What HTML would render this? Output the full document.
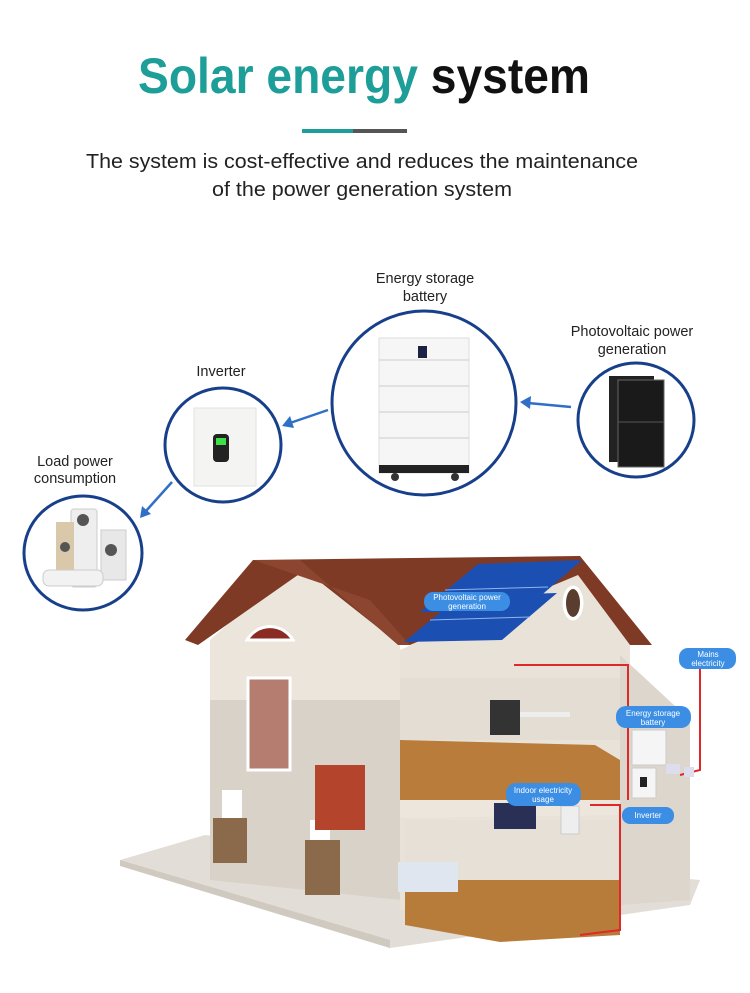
<!DOCTYPE html>
<html><head><meta charset="utf-8"><style>
html,body{margin:0;padding:0;background:#fff;}
svg{display:block;font-family:"Liberation Sans",sans-serif;}
</style></head><body>
<svg width="750" height="993" viewBox="0 0 750 993" xmlns="http://www.w3.org/2000/svg">
<rect width="750" height="993" fill="#fff"/>
<text x="138" y="93" font-size="50" font-weight="bold" textLength="452" lengthAdjust="spacingAndGlyphs"><tspan fill="#1d9e98">Solar energy</tspan><tspan fill="#111"> system</tspan></text>
<rect x="302" y="129" width="51" height="4" fill="#1d9e98"/><rect x="353" y="129" width="54" height="4" fill="#555"/>
<text x="362" y="168" font-size="20" fill="#222" text-anchor="middle" textLength="552" lengthAdjust="spacingAndGlyphs">The system is cost-effective and reduces the maintenance</text>
<text x="362" y="196" font-size="20" fill="#222" text-anchor="middle" textLength="300" lengthAdjust="spacingAndGlyphs">of the power generation system</text>

<g font-size="14.5" fill="#222" text-anchor="middle">
<text x="425" y="283">Energy storage</text><text x="425" y="301">battery</text>
<text x="632" y="336">Photovoltaic power</text><text x="632" y="354">generation</text>
<text x="221" y="376">Inverter</text>
<text x="75" y="466">Load power</text><text x="75" y="483">consumption</text>
</g>

<!-- circles -->
<g fill="#fff" stroke="#173f8a" stroke-width="3">
<ellipse cx="424" cy="403" rx="92" ry="92"/>
<ellipse cx="223" cy="445" rx="58" ry="57"/>
<ellipse cx="83" cy="553" rx="59" ry="57"/>
<ellipse cx="636" cy="420" rx="58" ry="57"/>
</g>
<!-- battery -->
<rect x="379" y="338" width="90" height="135" fill="#f6f6f6" stroke="#ddd"/>
<g stroke="#ccc"><line x1="379" y1="360" x2="469" y2="360"/><line x1="379" y1="386" x2="469" y2="386"/><line x1="379" y1="412" x2="469" y2="412"/><line x1="379" y1="438" x2="469" y2="438"/></g>
<rect x="418" y="346" width="9" height="12" fill="#1b2244"/>
<rect x="379" y="465" width="90" height="8" fill="#222"/>
<circle cx="395" cy="477" r="4" fill="#333"/><circle cx="455" cy="477" r="4" fill="#333"/>
<!-- inverter -->
<rect x="194" y="408" width="62" height="78" fill="#f4f4f2" stroke="#e2e2e2"/>
<rect x="213" y="434" width="16" height="28" rx="4" fill="#222"/><rect x="216" y="438" width="10" height="7" fill="#3ee04a"/>
<!-- pv panels -->
<rect x="609" y="376" width="45" height="86" fill="#222"/>
<rect x="618" y="380" width="46" height="87" fill="#1a1a1a" stroke="#666"/>
<line x1="618" y1="422" x2="664" y2="422" stroke="#555"/>
<!-- load -->
<rect x="71" y="509" width="26" height="78" rx="3" fill="#eee" stroke="#ccc"/>
<rect x="56" y="522" width="18" height="55" fill="#d9c9aa"/>
<rect x="101" y="530" width="25" height="50" fill="#e8e8e8" stroke="#ccc"/>
<rect x="43" y="570" width="60" height="16" rx="6" fill="#f2f2f2" stroke="#ccc"/>
<circle cx="83" cy="520" r="6" fill="#555"/><circle cx="111" cy="550" r="6" fill="#555"/><circle cx="65" cy="547" r="5" fill="#555"/>

<!-- arrows -->
<g stroke="#2f6fc7" stroke-width="2.5" fill="#2f6fc7">
<line x1="571" y1="407" x2="528" y2="403"/><polygon points="520,402 531,396 530,409" stroke="none"/>
<line x1="328" y1="410" x2="290" y2="423"/><polygon points="282,426 290,416 294,428" stroke="none"/>
<line x1="172" y1="482" x2="146" y2="511"/><polygon points="140,518 142,506 151,514" stroke="none"/>
</g>

<!-- house -->
<polygon points="120,860 205,835 700,880 690,905 390,948" fill="#e2ddd6"/>
<polygon points="120,860 390,940 390,948 120,866" fill="#cfc9c0"/>
<polygon points="210,640 300,560 400,640 400,900 210,880" fill="#ece5dc"/>
<polygon points="210,700 400,700 400,900 210,880" fill="#d9d2c8"/>
<polygon points="400,650 580,570 630,640 630,900 400,910" fill="#e9e2d8"/>
<polygon points="620,655 690,720 690,900 620,905" fill="#ddd6cc"/>
<polygon points="185,640 253,560 580,556 652,645 630,645 578,575 410,645 400,645 305,570 198,645" fill="#7e3a24"/>
<polygon points="253,560 300,560 398,645 410,645 370,600" fill="#8c4630"/>
<polygon points="420,612 478,564 582,560 522,612" fill="#1c4fb2"/>
<polygon points="404,642 460,596 557,593 502,640" fill="#1c4fb2"/>
<g stroke="#8fb6ee" stroke-width="1">
<line x1="445" y1="590" x2="548" y2="587"/><line x1="430" y1="620" x2="530" y2="617"/>
</g>
<path d="M247,640 a27,28 0 0 1 46,0 Z" fill="#8a2c24" stroke="#fff" stroke-width="3"/>
<rect x="248" y="678" width="42" height="92" fill="#b57d70" stroke="#fff" stroke-width="3"/>
<ellipse cx="573" cy="603" rx="11" ry="18" fill="#fff" stroke="#e8e1d6"/>
<ellipse cx="573" cy="603" rx="7" ry="14" fill="#5a3d2f"/>
<rect x="400" y="678" width="220" height="62" fill="#e3ddd3"/>
<polygon points="400,740 595,745 620,760 620,808 400,810" fill="#b97c3a"/>
<polygon points="400,800 620,800 620,815 400,818" fill="#ece6dc"/>
<rect x="490" y="700" width="30" height="35" fill="#333"/>
<rect x="520" y="712" width="50" height="5" fill="#eee"/>
<rect x="405" y="820" width="215" height="75" fill="#e6e0d6"/>
<polygon points="405,880 620,880 620,935 500,942 405,925" fill="#b87c3a"/>
<rect x="494" y="803" width="42" height="26" fill="#2a2f55"/>
<rect x="398" y="862" width="60" height="30" fill="#dfe6f0"/>
<rect x="561" y="806" width="18" height="28" fill="#eee" stroke="#ccc"/>
<rect x="222" y="790" width="20" height="55" fill="#fff"/>
<rect x="213" y="818" width="34" height="45" fill="#8a6a4a"/>
<rect x="310" y="820" width="20" height="40" fill="#fff"/>
<rect x="305" y="840" width="35" height="55" fill="#8a6a4a"/>
<rect x="315" y="765" width="50" height="65" fill="#b5442c"/>
<g fill="none" stroke="#e02828" stroke-width="2">
<polyline points="514,665 628,665 628,800"/>
<polyline points="700,668 700,770 680,775"/>
<polyline points="590,805 620,805 620,930 580,935"/>
</g>
<rect x="632" y="730" width="34" height="35" fill="#f5f5f5" stroke="#ccc"/>
<rect x="632" y="768" width="24" height="30" fill="#f5f5f5" stroke="#ccc"/>
<rect x="640" y="777" width="7" height="10" fill="#222"/>
<rect x="666" y="764" width="14" height="10" fill="#dde"/>
<rect x="684" y="767" width="10" height="10" fill="#dde"/>
<g fill="#3b8ee4">
<rect x="424" y="592" width="86" height="19" rx="9"/>
<rect x="679" y="648" width="57" height="21" rx="9"/>
<rect x="616" y="706" width="75" height="22" rx="10"/>
<rect x="506" y="783" width="75" height="23" rx="10"/>
<rect x="622" y="807" width="52" height="17" rx="8"/>
</g>
<g fill="#fff" font-size="8" text-anchor="middle">
<text x="467" y="600">Photovoltaic power</text><text x="467" y="609">generation</text>
<text x="708" y="657">Mains</text><text x="708" y="666">electricity</text>
<text x="653" y="716">Energy storage</text><text x="653" y="725">battery</text>
<text x="543" y="793">Indoor electricity</text><text x="543" y="802">usage</text>
<text x="648" y="818">Inverter</text>
</g>
</svg>
</body></html>
